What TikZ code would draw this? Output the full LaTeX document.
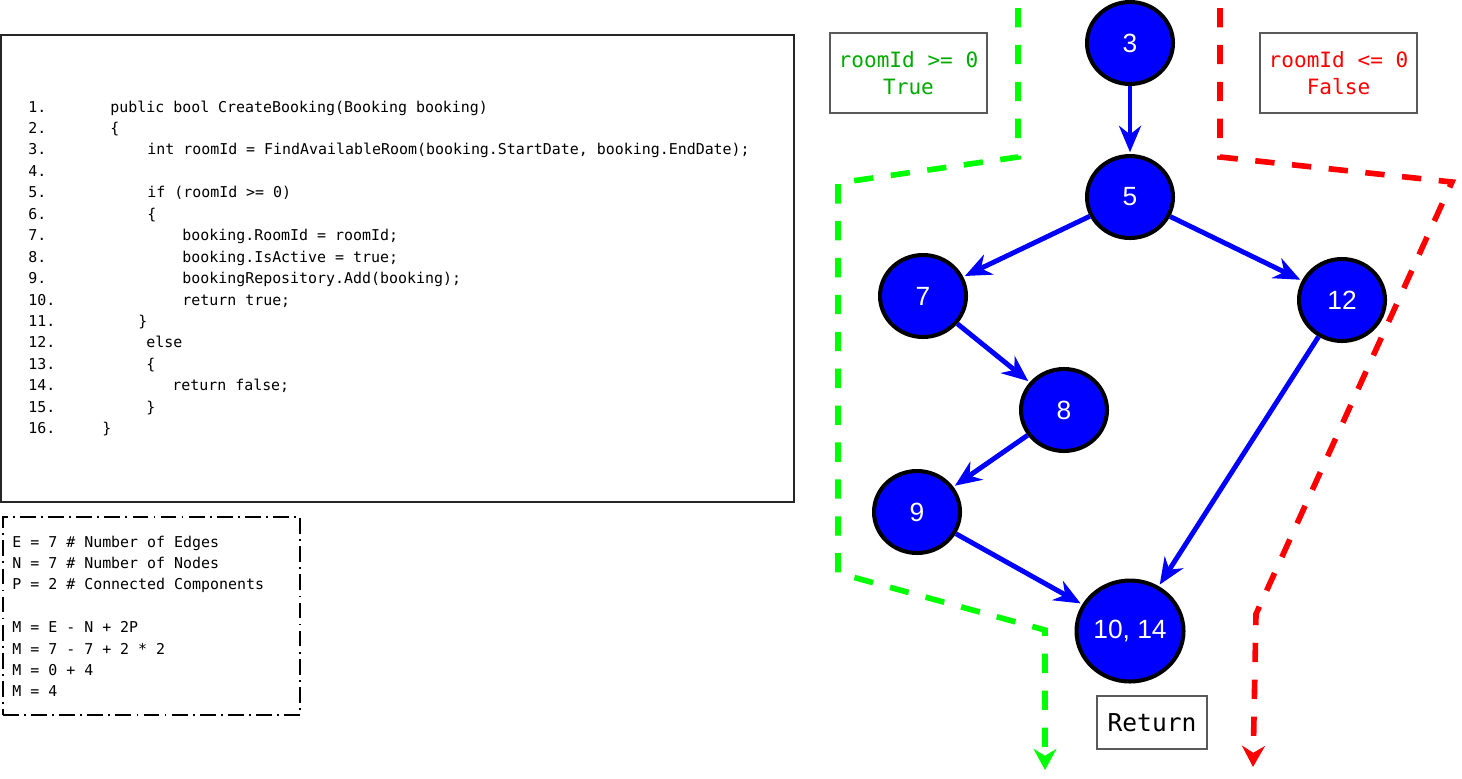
\documentclass[tikz,border=0pt]{standalone}
\usepackage{fontspec}
\setmonofont{DejaVu Sans Mono}
\newfontfamily\graphfont{Liberation Sans}
\usepackage{xcolor}
\usepackage{tikz}
\usetikzlibrary{positioning, calc, arrows.meta, shapes.geometric}

\definecolor{pathgreen}{RGB}{0,255,0}
\definecolor{textgreen}{RGB}{0,170,0}
\definecolor{boxgray}{RGB}{90,90,90}

\begin{document}
\begin{tikzpicture}[
    x=0.02cm, y=-0.02cm,
    vertex/.style={ellipse, draw=black, line width=2.3pt, fill=blue, text=white, inner sep=0pt, minimum width=1.72cm, minimum height=1.64cm, font=\graphfont\fontsize{15}{18}\selectfont},
    flow_arrow/.style={-{Stealth[length=15pt, width=12.5pt]}, line width=2.8pt, blue, shorten >=1pt},
    true_path/.style={-{Stealth[length=12pt, width=13pt]}, line width=3.2pt, pathgreen, dash pattern=on 11pt off 10pt},
    false_path/.style={-{Stealth[length=12pt, width=13pt]}, line width=3.2pt, red, dash pattern=on 11pt off 10pt},
    cond_box/.style={rectangle, draw=boxgray, line width=0.9pt, minimum width=3.14cm, minimum height=1.6cm, align=center, font=\ttfamily\fontsize{12}{15.3}\selectfont},
    code_style/.style={anchor=base west, inner sep=0pt, font=\ttfamily\fontsize{8.5}{10}\selectfont},
    node distance=1.36cm
]
    \useasboundingbox (0,0) rectangle (1462,778);

    % Khung mã nguồn
    \node[draw=black!85, line width=1.2pt, minimum width=15.86cm, minimum height=9.34cm, inner sep=0pt] (code_box) at (397.5,268.5) {};
    \foreach \n/\cx/\txt in {
        1/110/{public bool CreateBooking(Booking booking)},
        2/110/{\{},
        3/147/{int roomId = FindAvailableRoom(booking.StartDate, booking.EndDate);},
        4/147/{},
        5/147/{if (roomId >= 0)},
        6/147/{\{},
        7/182/{booking.RoomId = roomId;},
        8/182/{booking.IsActive = true;},
        9/182/{bookingRepository.Add(booking);},
        10/182/{return true;},
        11/138/{\}},
        12/146/{else},
        13/146/{\{},
        14/172/{return false;},
        15/146/{\}},
        16/102/{\}}}{
        \node[code_style] (num\n) at (28, {112+(\n-1)*21.45}) {\n.};
        \node[code_style] (line\n) at (\cx, {112+(\n-1)*21.45}) {\txt};
    }

    % Độ phức tạp
    \node[draw=black, line width=1.1pt, dash pattern=on 9pt off 3pt on 1pt off 3pt, minimum width=5.94cm, minimum height=3.96cm, inner sep=0pt] (metric_box) at (151.5,616) {};
    \foreach \k/\txt in {
        0/{E = 7 \# Number of Edges},
        1/{N = 7 \# Number of Nodes},
        2/{P = 2 \# Connected Components},
        4/{M = E - N + 2P},
        5/{M = 7 - 7 + 2 * 2},
        6/{M = 0 + 4},
        7/{M = 4}}{
        \node[code_style] (metric\k) at (12, {547+\k*21.4}) {\txt};
    }

    % Các Node
    \node[vertex] (n3) at (1130,43) {3};
    \node[vertex, below=of n3] (n5) {5};
    \node[vertex] (n7) at (923,296) {7};
    \node[vertex] (n12) at (1342,300) {12};
    \node[vertex] (n8) at (1064,410) {8};
    \node[vertex] (n9) at (917,512) {9};
    \node[vertex, minimum width=2.14cm, minimum height=2.02cm] (n1014) at (1130,631) {10, 14};

    \node[cond_box, text=textgreen] (true_box) at (908.5,73) {roomId >= 0\\True};
    \node[cond_box, text=red] (false_box) at (1338.5,73) {roomId <= 0\\False};
    \node[rectangle, draw=boxgray, line width=0.9pt, minimum width=2.2cm, minimum height=1.06cm, font=\ttfamily\fontsize{14}{16}\selectfont] (return_box) at (1152,722.5) {Return};

    % Các cạnh
    \draw[flow_arrow] (n3) -- (n5);
    \draw[flow_arrow] (n5) -- (n7);
    \draw[flow_arrow] (n5) -- (n12);
    \draw[flow_arrow] (n7) -- (n8);
    \draw[flow_arrow] (n8) -- (n9);
    \draw[flow_arrow] (n9) -- (n1014);
    \draw[flow_arrow] (n12) -- (n1014);

    % Đường True / False
    \coordinate (true_end) at (1045,770);
    \coordinate (false_end) at (1253,767);
    \draw[true_path] (1018,8) -- (1018,157) -- (838,183) -- (838,573) -- (1045,630) -- (true_end);
    \draw[false_path] (1220,8) -- (1220,157) -- (1452,182) -- (1256,614) -- (false_end);
\end{tikzpicture}
\end{document}
